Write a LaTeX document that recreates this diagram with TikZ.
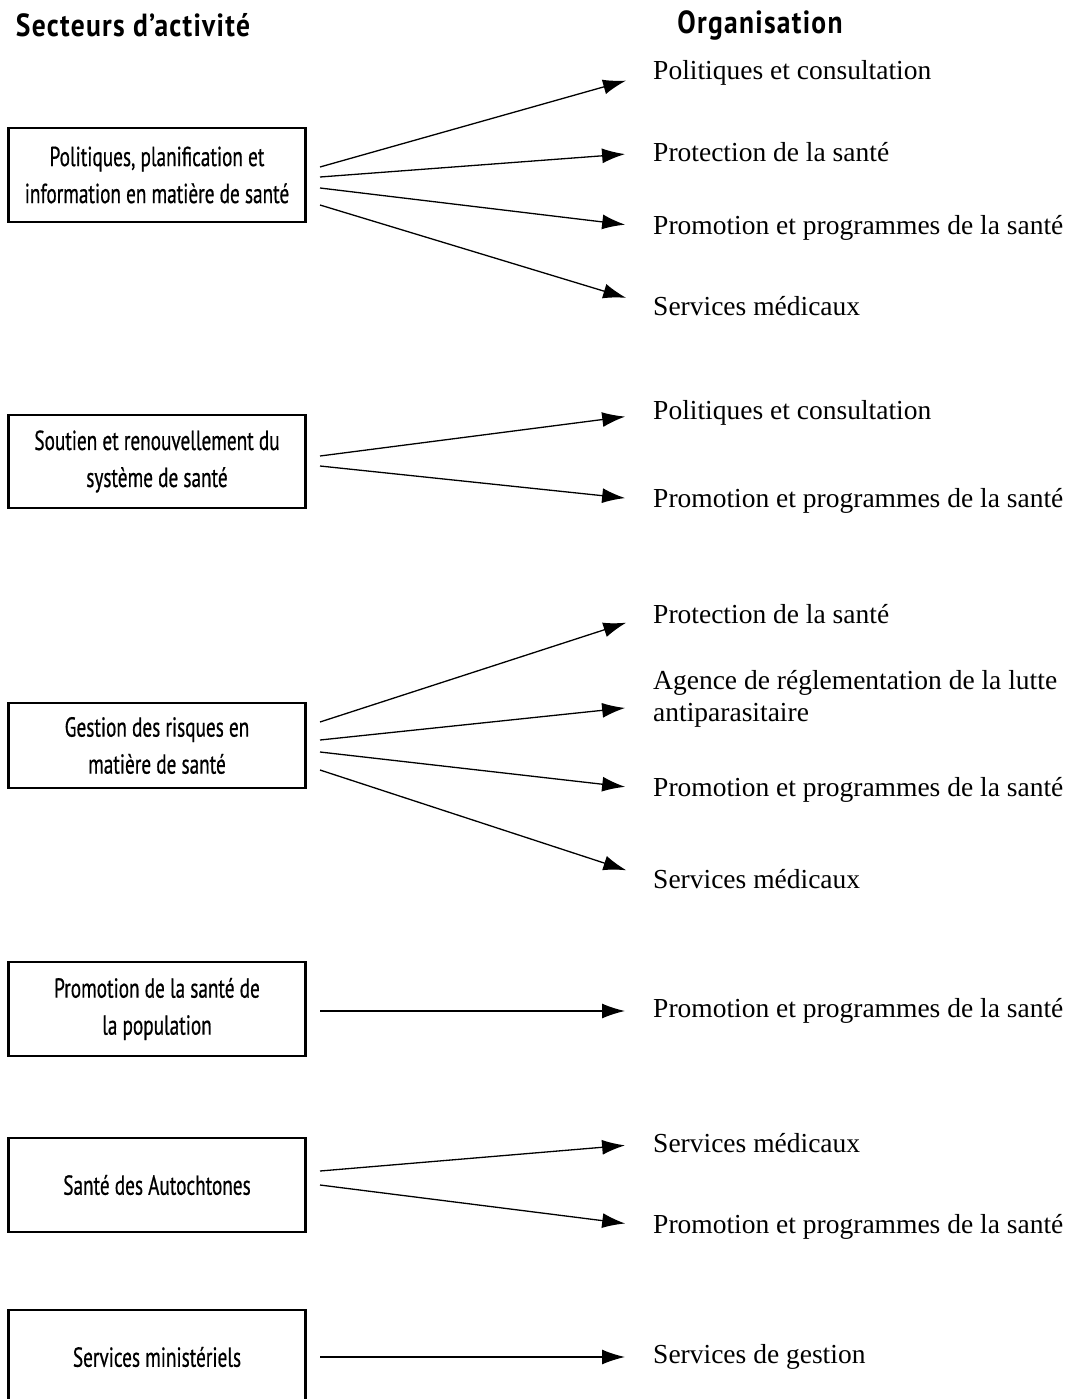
\documentclass[tikz,border=0pt]{standalone}
\usepackage{fontspec}
\setmainfont{Liberation Serif}
\newfontfamily\condfont[FakeStretch=0.70,FakeBold=0.6]{PT Sans}
\newfontfamily\headfont[FakeStretch=0.86,LetterSpace=4]{PT Sans}
\usetikzlibrary{arrows.meta}
\tikzset{
  sector/.style={draw, line width=2.5pt, minimum width=297pt, minimum height=94pt,
    align=center, inner sep=0pt, font=\condfont\fontsize{27.5}{37}\selectfont},
  org/.style={anchor=west, inner sep=0pt, align=left, font=\fontsize{27.5}{32}\selectfont},
  arr/.style={line width=1.3pt, -{Latex[length=23pt,width=15pt]}, shorten >=28pt},
  head/.style={inner sep=0pt, font=\headfont\bfseries\fontsize{32}{34}\selectfont}
}
\begin{document}
\begin{tikzpicture}[x=1pt,y=-1pt]
\useasboundingbox (0,0) rectangle (1070,1399);
\clip (0,0) rectangle (1070,1399);

% headers
\node[head] (h1) at (133,25) {Secteurs d’activité};
\node[head] (h2) at (760,25) {Organisation};

% sector boxes
\node[sector] (b1) at (157,175) {Politiques, planification et\\information en matière de santé};
\node[sector, minimum height=93pt] (b2) at (157,461.5) {Soutien et renouvellement du\\système de santé};
\node[sector, minimum height=85pt] (b3) at (157,745.5) {Gestion des risques en\\matière de santé};
\node[sector] (b4) at (157,1009) {Promotion de la santé de\\la population};
\node[sector] (b5) at (157,1185) {Santé des Autochtones};
\node[sector] (b6) at (157,1357) {Services ministériels};

% organisation targets
\node[org] (t1a) at (653,73) {Politiques et consultation};
\node[org] (t1b) at (653,152) {Protection de la santé};
\node[org] (t1c) at (653,228) {Promotion et programmes de la santé};
\node[org] (t1d) at (653,306) {Services médicaux};

\node[org] (t2a) at (653,413) {Politiques et consultation};
\node[org] (t2b) at (653,501) {Promotion et programmes de la santé};

\node[org] (t3a) at (653,614) {Protection de la santé};
\node[org] (t3b) at (653,699) {Agence de réglementation de la lutte\\antiparasitaire};
\node[org] (t3c) at (653,790) {Promotion et programmes de la santé};
\node[org] (t3d) at (653,879) {Services médicaux};

\node[org] (t4a) at (653,1011) {Promotion et programmes de la santé};

\node[org] (t5a) at (653,1143) {Services médicaux};
\node[org] (t5b) at (653,1227) {Promotion et programmes de la santé};

\node[org] (t6a) at (653,1357) {Services de gestion};

% arrow start points
\coordinate (s1a) at (320,167);
\coordinate (s1b) at (320,177);
\coordinate (s1c) at (320,188);
\coordinate (s1d) at (320,205);
\coordinate (s2a) at (320,456);
\coordinate (s2b) at (320,466);
\coordinate (s3a) at (320,722);
\coordinate (s3b) at (320,740);
\coordinate (s3c) at (320,752);
\coordinate (s3d) at (320,770);
\coordinate (s4a) at (320,1011);
\coordinate (s5a) at (320,1171);
\coordinate (s5b) at (320,1185);
\coordinate (s6a) at (320,1357);

% connectors
\draw[arr] (s1a) -- (t1a.west);
\draw[arr] (s1b) -- (t1b.west);
\draw[arr] (s1c) -- (t1c.west);
\draw[arr] (s1d) -- (t1d.west);
\draw[arr] (s2a) -- (t2a.west);
\draw[arr] (s2b) -- (t2b.west);
\draw[arr] (s3a) -- (t3a.west);
\draw[arr] (s3b) -- ([yshift=-6pt]t3b.west);
\draw[arr] (s3c) -- (t3c.west);
\draw[arr] (s3d) -- (t3d.west);
\draw[arr] (s4a) -- (t4a.west);
\draw[arr] (s5a) -- (t5a.west);
\draw[arr] (s5b) -- (t5b.west);
\draw[arr] (s6a) -- (t6a.west);
\end{tikzpicture}
\end{document}
